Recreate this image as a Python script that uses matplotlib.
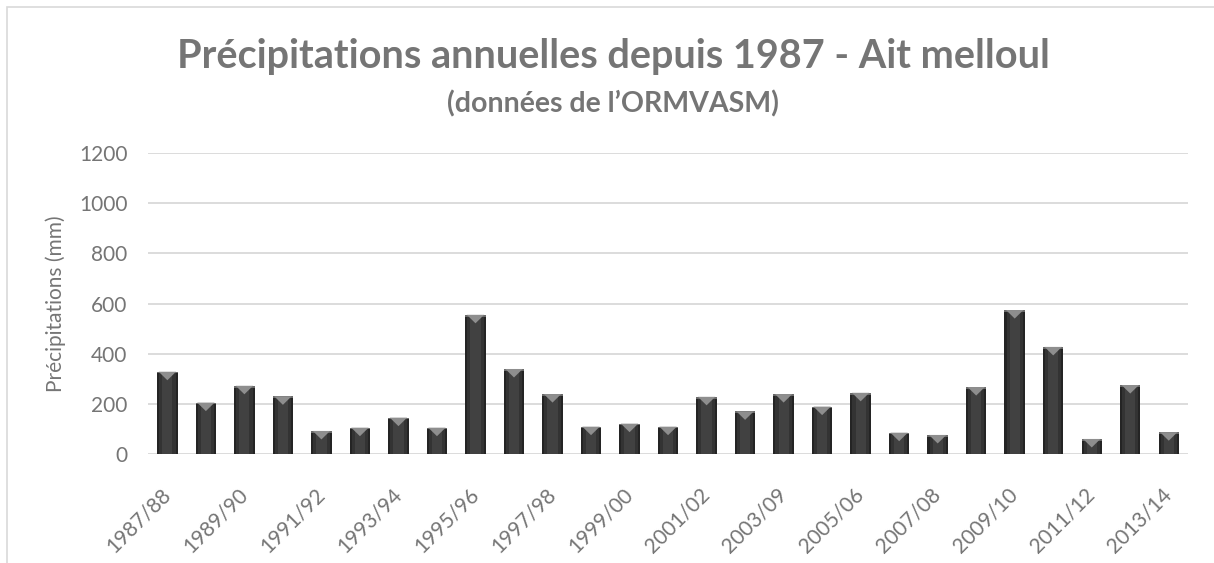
import numpy as np
import matplotlib
matplotlib.use("Agg")
import matplotlib.pyplot as plt
from matplotlib.patches import Rectangle, Polygon
from matplotlib.transforms import ScaledTranslation

# Précipitations annuelles (mm), station Ait Melloul
saisons = [
    "1987/88", "1988/89", "1989/90", "1990/91", "1991/92", "1992/93",
    "1993/94", "1994/95", "1995/96", "1996/97", "1997/98", "1998/99",
    "1999/00", "2000/01", "2001/02", "2002/03", "2003/09", "2004/05",
    "2005/06", "2006/07", "2007/08", "2008/09", "2009/10", "2010/11",
    "2011/12", "2012/13", "2013/14",
]
precip = [
    328, 205, 272, 230, 92, 105, 145, 105, 555, 339, 239, 109, 121, 109,
    228, 170, 239, 189, 244, 85, 76, 267, 574, 427, 60, 275, 87,
]
y_ticks = [0, 200, 400, 600, 800, 1000, 1200]

plt.rcParams["font.family"] = ["Lato", "DejaVu Sans"]
GRIS = "#757575"

fig = plt.figure(figsize=(12.14, 5.63), dpi=100)
ax = fig.add_axes([0.122, 0.1936, 0.8566, 0.5346])

x = np.arange(len(saisons))
w = 0.53

# barres avec un léger dégradé horizontal (couches superposées)
ax.bar(x, precip, width=w, color="#242424", zorder=3)
ax.bar(x, precip, width=w * 0.8, color="#333333", zorder=4)
ax.bar(x, precip, width=w * 0.5, color="#414141", zorder=5)

# biseau clair en haut de chaque barre
bev = 34
for xi, v in zip(x, precip):
    top = Rectangle((xi - w / 2, v - 7), w, 7, facecolor="#6a6a6a",
                    edgecolor="none", zorder=6)
    ax.add_patch(top)
    tri = Polygon([(xi - w / 2 + 0.04, v), (xi + w / 2 - 0.04, v), (xi, v - bev)],
                  closed=True, facecolor="#8e8e8e", edgecolor="none", zorder=7)
    ax.add_patch(tri)

ax.set_xlim(-0.5, len(saisons) - 0.5)
ax.set_ylim(0, 1200)
ax.set_yticks(y_ticks)
ax.set_xticks(x[::2])
ax.set_xticklabels(saisons[::2], rotation=45, ha="right",
                   rotation_mode="anchor", fontsize=15, color=GRIS)
ax.tick_params(axis="y", labelsize=15, labelcolor=GRIS, length=0, pad=15)
ax.tick_params(axis="x", length=0, pad=22)
# décale légèrement les étiquettes inclinées vers la gauche
shift = ScaledTranslation(-7 / 100, 0, fig.dpi_scale_trans)
for lab in ax.get_xticklabels():
    lab.set_transform(lab.get_transform() + shift)
ax.grid(axis="y", color="#d9d9d9", linewidth=1.3, zorder=0)
ax.set_axisbelow(True)
for s in ax.spines.values():
    s.set_visible(False)

ax.set_ylabel("Précipitations (mm)", fontsize=15, color=GRIS, labelpad=9)

fig.text(0.505, 0.899, "Précipitations annuelles depuis 1987 - Ait melloul",
         ha="center", va="center", fontsize=28.5, fontweight="bold", color=GRIS)
fig.text(0.505, 0.815, "(données de l’ORMVASM)",
         ha="center", va="center", fontsize=20.5, fontweight="bold", color=GRIS)

# cadre extérieur du graphique
fig.patches.append(Rectangle((7 / 1214, -0.2), 1.2, 1.2 - 7 / 563,
                             transform=fig.transFigure, fill=False,
                             edgecolor="#d9d9d9", linewidth=1.2))

fig.savefig("out.png", dpi=100)
